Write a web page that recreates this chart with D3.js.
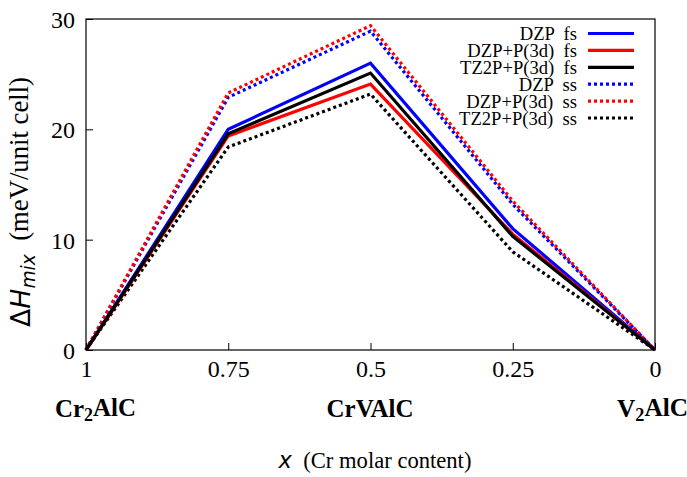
<!DOCTYPE html>
<html>
<head>
<meta charset="utf-8">
<script src="https://cdn.jsdelivr.net/npm/d3@7"></script>
<style>
body { margin: 0; background: #fff; }
svg text { font-family: "Liberation Serif", "Times New Roman", Tinos, "DejaVu Serif", serif; }
svg text .sans { font-family: "DejaVu Sans", sans-serif; }
</style>
</head>
<body>
<div id="chart"></div>
<script>
// chart data
var xValues = [1, 0.75, 0.5, 0.25, 0];
var xTicks = [1, 0.75, 0.5, 0.25, 0];
var yTicks = [0, 10, 20, 30];
var seriesNames = ["DZP  fs", "DZP+P(3d)  fs", "TZ2P+P(3d)  fs", "DZP  ss", "DZP+P(3d)  ss", "TZ2P+P(3d)  ss"];
var dzpFs = [0, 20.0, 26.0, 11.0, 0];
var dzpP3dFs = [0, 19.4, 24.1, 10.5, 0];
var tz2pP3dFs = [0, 19.6, 25.1, 10.3, 0];
var dzpSs = [0, 22.9, 28.9, 13.2, 0];
var dzpP3dSs = [0, 23.3, 29.4, 13.5, 0];
var tz2pP3dSs = [0, 18.4, 23.2, 8.9, 0];
var compounds = ["Cr2AlC", "CrVAlC", "V2AlC"];

var series = [
  { name: seriesNames[3], values: dzpSs, color: "#0000ff", dashed: true },
  { name: seriesNames[4], values: dzpP3dSs, color: "#ff0000", dashed: true },
  { name: seriesNames[5], values: tz2pP3dSs, color: "#000000", dashed: true },
  { name: seriesNames[0], values: dzpFs, color: "#0000ff", dashed: false },
  { name: seriesNames[1], values: dzpP3dFs, color: "#ff0000", dashed: false },
  { name: seriesNames[2], values: tz2pP3dFs, color: "#000000", dashed: false }
];
var legendOrder = [3, 4, 5, 0, 1, 2];

var svgWidth = 687;
var svgHeight = 477;
var margin = { top: 19, right: 32, bottom: 127, left: 86 };
var width = svgWidth - margin.left - margin.right;
var height = svgHeight - margin.top - margin.bottom;

var svg = d3.select("#chart")
  .append("svg")
  .attr("width", svgWidth)
  .attr("height", svgHeight);

var chartGroup = svg.append("g")
  .attr("transform", `translate(${margin.left}, ${margin.top})`);

// scale a text's font so that it takes the given width
function fitWidth(sel, target) {
  var fs = +sel.attr("font-size");
  var w = sel.node().getBBox().width;
  var nfs = fs * target / w;
  sel.attr("font-size", nfs);
  return nfs;
}

var xScale = d3.scaleLinear().domain([1, 0]).range([0, width]);
var yScale = d3.scaleLinear().domain([0, 30]).range([height, 0]);

// frame
chartGroup.append("rect")
  .attr("width", width)
  .attr("height", height)
  .attr("fill", "none")
  .attr("stroke", "#000")
  .attr("stroke-width", 1.2);

// axes with inward ticks
var bottomAxis = d3.axisBottom(xScale).tickValues(xTicks).tickSize(-7).tickPadding(9)
  .tickFormat(d => String(d));
var leftAxis = d3.axisLeft(yScale).tickValues(yTicks).tickSize(-7).tickPadding(11)
  .tickFormat(d3.format("d"));

var xAxisG = chartGroup.append("g")
  .attr("transform", `translate(0, ${height})`)
  .call(bottomAxis);
var yAxisG = chartGroup.append("g").call(leftAxis);

var probe = xAxisG.selectAll("text").filter(d => d === 0.75).attr("font-size", 20);
var tickFs = fitWidth(probe, 42);

[xAxisG, yAxisG].forEach(function(g) {
  g.attr("font-family", null);
  g.select(".domain").remove();
  g.selectAll("text").attr("font-size", tickFs).attr("fill", "#000");
  g.selectAll("line").attr("stroke", "#000");
});
yAxisG.selectAll("text").attr("dy", "0.35em");
xAxisG.selectAll("text").attr("dy", "0.75em");

// lines
var line = d3.line()
  .x((d, i) => xScale(xValues[i]))
  .y(d => yScale(d));

series.forEach(function(s) {
  chartGroup.append("path")
    .datum(s.values)
    .attr("fill", "none")
    .attr("stroke", s.color)
    .attr("stroke-width", 3.2)
    .attr("stroke-dasharray", s.dashed ? "3,3" : null)
    .attr("d", line);
});

// legend
var legend = chartGroup.append("g")
  .attr("transform", `translate(${width - 67}, 14.5)`);
var legendTexts = [];
legendOrder.forEach(function(k, i) {
  var s = series[k];
  var row = legend.append("g").attr("transform", `translate(0, ${i * 16.9})`);
  legendTexts.push(row.append("text")
    .attr("x", -11)
    .attr("y", 0)
    .attr("dy", "0.35em")
    .attr("text-anchor", "end")
    .attr("font-size", 17)
    .style("white-space", "pre")
    .text(s.name));
  row.append("line")
    .attr("x1", 0).attr("x2", 46)
    .attr("y1", 0).attr("y2", 0)
    .attr("stroke", s.color)
    .attr("stroke-width", 3.2)
    .attr("stroke-dasharray", s.dashed ? "3,3" : null);
});
var legendFs = fitWidth(legendTexts[5], 118);
legendTexts.forEach(t => t.attr("font-size", legendFs));

// compound labels
function compoundLabel(name, x, anchor, target) {
  var t = svg.append("text")
    .attr("x", x)
    .attr("y", 417)
    .attr("text-anchor", anchor)
    .attr("font-size", 22)
    .attr("font-weight", "bold");
  var m = name.match(/^(\D+)(\d?)(.*)$/);
  t.append("tspan").text(m[1]);
  if (m[2]) {
    t.append("tspan").attr("font-size", "0.72em").attr("dy", "0.2em").text(m[2]);
    t.append("tspan").attr("dy", "-0.2em").text(m[3]);
  } else {
    t.append("tspan").text(m[3]);
  }
  fitWidth(t, target);
}
compoundLabel(compounds[0], 55, "start", 81);
compoundLabel(compounds[1], 370, "middle", 87);
compoundLabel(compounds[2], 688, "end", 71);

// x axis label
var xLabel = svg.append("text")
  .attr("x", 375)
  .attr("y", 468)
  .attr("text-anchor", "middle")
  .attr("font-size", 21)
  .style("white-space", "pre");
xLabel.append("tspan").attr("class", "sans").attr("font-style", "italic").text("x");
xLabel.append("tspan").text("  (Cr molar content)");
fitWidth(xLabel, 194);

// y axis label
var yLabel = svg.append("text")
  .attr("transform", "translate(30, 202) rotate(-90)")
  .attr("text-anchor", "middle")
  .attr("font-size", 21)
  .style("white-space", "pre");
yLabel.append("tspan").attr("class", "sans").text("Δ");
yLabel.append("tspan").attr("class", "sans").attr("font-style", "italic").text("H");
yLabel.append("tspan").attr("class", "sans").attr("font-style", "italic")
  .attr("font-size", "0.7em").attr("dy", "0.25em").text("mix");
yLabel.append("tspan").attr("dy", "-0.25em").text("  (meV/unit cell)");
fitWidth(yLabel, 250);
</script>
</body>
</html>
